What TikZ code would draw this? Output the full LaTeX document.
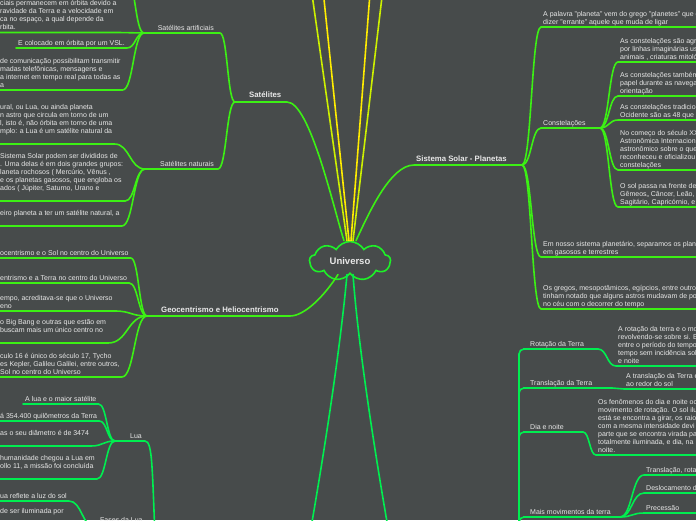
\documentclass[tikz,border=0pt]{standalone}
\usepackage{fontspec}
\setmainfont{Liberation Sans}
\usetikzlibrary{calc,shapes.symbols}

\definecolor{fundo}{RGB}{71,75,75}
\definecolor{texto}{RGB}{232,232,232}
\definecolor{verdelima}{RGB}{60,240,20}
\definecolor{verdemar}{RGB}{0,238,80}
\definecolor{verdenuvem}{RGB}{30,240,40}
\definecolor{amarelo}{RGB}{255,236,0}
\definecolor{amareloverde}{RGB}{205,240,0}

\begin{document}
\begin{tikzpicture}[x=1pt, y=-1pt, line cap=round,
    every node/.style={text=texto, font=\fontsize{7}{8}\selectfont},
    folha/.style={inner xsep=2pt, inner ysep=0pt, align=left, anchor=south west, execute at end node=\strut},
    titulo/.style={font=\bfseries\fontsize{7.8}{9}\selectfont, inner sep=0pt, anchor=base west},
    ramo/.style={draw=verdelima, line width=1.6pt},
    ramoT/.style={draw=verdemar, line width=1.6pt},
    curva/.style={to path={let \p1=(\tikztostart), \p2=(\tikztotarget) in
        .. controls ({(\x1+\x2)/2},\y1) and ({(\x1+\x2)/2},\y2) .. (\tikztotarget)}}]

    % 1. fundo e recorte
    \fill[fundo] (0,0) rectangle (696,520);
    \useasboundingbox (0,0) rectangle (696,520);
    \clip (0,0) rectangle (696,520);

    % pontos de ligacao
    \coordinate (satL) at (235,102);   \coordinate (satR) at (287,102);
    \coordinate (artL) at (144,33);    \coordinate (artR) at (220,33);
    \coordinate (artCima) at (126,-25);
    \coordinate (natL) at (145,169);   \coordinate (natR) at (218,169);
    \coordinate (geoL) at (147,316);   \coordinate (geoR) at (290,316);
    \coordinate (luaL) at (115,441);   \coordinate (luaR) at (145,441);
    \coordinate (luaTronco) at (156,560);
    \coordinate (fasL) at (95,527);    \coordinate (fasR) at (150,527);
    \coordinate (sisL) at (414,165);   \coordinate (sisR) at (522,165);
    \coordinate (constR) at (600,128);
    \coordinate (terraS) at (519,600);
    \coordinate (rotR) at (598,349);   \coordinate (traR) at (612,388);
    \coordinate (diaR) at (583,432);   \coordinate (maisR) at (620,517);
    \coordinate (topoA) at (310,-20);  \coordinate (topoB) at (322,-20);
    \coordinate (topoC) at (371,-20);  \coordinate (topoD) at (384,-20);
    \coordinate (baixoA) at (308,545); \coordinate (baixoB) at (391,545);

    % 2. nuvem central
    \node[cloud, cloud puffs=9, cloud puff arc=120, aspect=2.1, draw=verdenuvem, line width=1.6pt,
          minimum width=81pt, minimum height=39pt, inner sep=0pt,
          font=\bfseries\fontsize{9.5}{11}\selectfont] (uni) at (350,261) {Universo};

    % 3. ramos que saem da nuvem
    \draw[amareloverde, line width=1.6pt] ([xshift=-3pt]uni.north) -- (topoA);
    \draw[amarelo, line width=1.6pt] ([xshift=-1pt]uni.north) -- (topoB);
    \draw[amarelo, line width=1.6pt] ([xshift=1pt]uni.north) -- (topoC);
    \draw[amareloverde, line width=1.6pt] ([xshift=3pt]uni.north) -- (topoD);
    \draw[ramo] ([xshift=-6pt]uni.north) .. controls (334,210) and (310,102) .. (satR) -- (satL);
    \draw[ramo] ([xshift=6pt]uni.north) .. controls (368,215) and (390,165) .. (sisL) -- (sisR);
    \draw[ramo] ([xshift=-12pt]uni.south) .. controls (325,295) and (305,316) .. (geoR) -- (geoL);
    \draw[ramoT] ([xshift=-3pt]uni.south) .. controls (342,330) and (330,420) .. (baixoA);
    \draw[ramoT] ([xshift=3pt]uni.south) .. controls (357,330) and (369,420) .. (baixoB);

    % 4. Satelites
    \node[titulo] (sat) at (249,97) {Satélites};
    \node[folha, anchor=south east] (art) at (216,33) {Satélites artificiais};
    \node[folha, anchor=south east] (nat) at (216,169) {Satélites naturais};
    \draw[ramo] (satL) to[curva] (artR) -- (artL);
    \draw[ramo] (satL) to[curva] (natR) -- (natL);

    \node[folha] (a1) at (-2,32.5) {ciais permanecem em órbita  devido a\\ravidade da Terra e a velocidade em\\ca no espaço, a qual depende da\\rbita.};
    \node[folha] (a2) at (16,48) {E colocado em órbita por um VSL.};
    \node[folha] (a3) at (-2,90) {de comunicação possibilitam transmitir\\madas telefônicas, mensagens e\\a internet em tempo real para todas as\\a};
    \draw[ramo] (artL) to[curva] (artCima);
    \draw[ramo] (artL) to[curva] (a1.south east) -- (a1.south west);
    \draw[ramo] (artL) to[curva] (a2.south east) -- (a2.south west);
    \draw[ramo] (artL) to[curva] (a3.south east) -- (a3.south west);

    \node[folha] (n1) at (-2,144) {ural, ou Lua, ou ainda planeta\\n astro que circula em torno de um\\l, isto é, não órbita em torno de uma\\mplo: a Lua é um satélite natural da\\};
    \node[folha] (n2) at (-2,201) {Sistema Solar podem ser divididos de\\. Uma delas é em dois grandes grupos:\\laneta rochosos ( Mercúrio, Vênus ,\\e os planetas gasosos, que engloba os\\ados ( Júpiter, Saturno, Urano e\\};
    \node[folha] (n3) at (-2,226) {eiro planeta a ter um satélite natural, a\\};
    \draw[ramo] (natL) to[curva] (n1.south east) -- (n1.south west);
    \draw[ramo] (natL) to[curva] (n2.south east) -- (n2.south west);
    \draw[ramo] (natL) to[curva] (n3.south east) -- (n3.south west);

    % 5. Geocentrismo e Heliocentrismo
    \node[titulo] (geo) at (161,312) {Geocentrismo e Heliocentrismo};
    \node[folha] (g1) at (-2,258) {ocentrismo e o Sol no centro do Universo};
    \node[folha] (g2) at (-2,283) {entrismo e a Terra no centro do Universo};
    \node[folha] (g3) at (-2,311) {empo, acreditava-se que o Universo\\eno};
    \node[folha] (g4) at (-2,343) {o Big Bang e outras que estão em\\buscam mais um único centro no\\};
    \node[folha] (g5) at (-2,377) {culo 16 é único do século 17, Tycho\\es Kepler, Galileu Galilei, entre outros,\\Sol no centro do Universo};
    \foreach \g in {g1,g2,g3,g4,g5}
        \draw[ramo] (geoL) to[curva] (\g.south east) -- (\g.south west);

    % 6. Lua e Fases da Lua
    \node[folha, anchor=south east] (lua) at (144,441) {Lua};
    \draw[ramoT] (luaL) -- (luaR) .. controls (153,441) and (152,470) .. (luaTronco);
    \node[folha] (l1) at (23,404) {A lua e o maior satélite};
    \node[folha] (l2) at (-2,421) {á 354.400 quilômetros da Terra};
    \node[folha] (l3) at (-2,446) {as o seu diâmetro é de 3474\\};
    \node[folha] (l4) at (-2,479) {humanidade chegou a Lua em\\ollo 11, a missão foi concluída\\};
    \foreach \l in {l1,l2,l3,l4}
        \draw[ramoT] (luaL) to[curva] (\l.south east) -- (\l.south west);

    \node[anchor=base west, inner sep=0pt] (fas) at (100,522) {Fases da Lua};
    \draw[ramoT] (fasL) -- (fasR) -- (luaTronco);
    \node[folha] (f1) at (-2,501) {ua reflete a luz do sol};
    \node[folha] (f2) at (-2,524) {de ser iluminada por\\};
    \draw[ramoT] (fasL) to[curva] (f1.south east) -- (f1.south west);
    \draw[ramoT] (fasL) to[curva] (f2.south east) -- (f2.south west);

    % 7. Sistema Solar - Planetas
    \node[titulo] (sis) at (416,161) {Sistema Solar - Planetas};
    \node[folha] (pal) at (541,27) {A palavra "planeta" vem do grego "planetes" que q\\dizer "errante" aquele que muda de ligar};
    \node[folha] (const) at (541,128) {Constelações};
    \node[folha] (emn) at (541,257) {Em nosso sistema planetário, separamos os plane\\em gasosos e terrestres};
    \node[folha] (gre) at (541,309) {Os gregos, mesopotâmicos, egípcios, entre outros\\tinham notado que alguns astros mudavam de po\\no céu com o decorrer do tempo};
    \draw[ramo] (sisR) to[curva] (pal.south west) -- (pal.south east);
    \draw[ramo] (sisR) to[curva] (const.south west) -- (constR);
    \draw[ramo] (sisR) to[curva] (emn.south west) -- (emn.south east);
    \draw[ramo] (sisR) to[curva] (gre.south west) -- (gre.south east);

    \node[folha] (c1) at (618,62) {As constelações são agru\\por linhas imaginárias usa\\animais , criaturas mitoló};
    \node[folha] (c2) at (618,96) {As constelações também\\papel durante as navega\\orientação};
    \node[folha] (c3) at (618,120) {As constelações tradicio\\Ocidente são as 48 que};
    \node[folha] (c4) at (618,170) {No começo do século XX\\Astronômica Internacion\\astronômico sobre o que\\reconheceu e oficializou\\constelações};
    \node[folha] (c5) at (618,207) {O sol passa na frente de\\Gêmeos,, Câncer, Leão,\\Sagitário, Capricórnio, e};
    \foreach \c in {c1,c2,c3,c4,c5}
        \draw[ramo] (constR) to[curva] (\c.south west) -- ([xshift=20pt]\c.south east);

    % 8. Movimentos da Terra
    \node[folha] (rot) at (528,349) {Rotação da Terra};
    \node[folha] (tra) at (528,388) {Translação da Terra};
    \node[folha] (dia) at (528,432) {Dia e noite};
    \node[folha] (mais) at (528,517) {Mais movimentos da terra};
    \draw[ramoT, rounded corners=5pt] (terraS) |- (rot.south west) -- (rotR);
    \draw[ramoT, rounded corners=5pt] (terraS) |- (tra.south west) -- (traR);
    \draw[ramoT, rounded corners=5pt] (terraS) |- (dia.south west) -- (diaR);
    \draw[ramoT, rounded corners=5pt] (terraS) |- (mais.south west) -- (maisR);

    \node[folha] (rotT) at (616,366) {A rotação da terra e o mo\\revolvendo-se sobre si. E\\entre o período do tempo\\tempo sem incidência sol\\e noite};
    \node[folha] (traT) at (624,389) {A translação da Terra é\\ao redor do sol};
    \node[folha] (diaT) at (596,455) {Os fenômenos do dia e noite oc\\movimento de rotação. O sol ilu\\está se encontra a girar, os raio\\com a mesma intensidade devi\\parte que se encontra virada pa\\totalmente iluminada, e dia, na\\noite.};
    \draw[ramoT] (rotR) to[curva] (rotT.south west) -- ([xshift=20pt]rotT.south east);
    \draw[ramoT] (traR) to[curva] (traT.south west) -- ([xshift=20pt]traT.south east);
    \draw[ramoT] (diaR) to[curva] (diaT.south west) -- ([xshift=20pt]diaT.south east);

    \node[folha] (m1) at (644,475) {Translação, rota};
    \node[folha] (m2) at (644,493) {Deslocamento d};
    \node[folha] (m3) at (644,513) {Precessão};
    \foreach \m in {m1,m2,m3}
        \draw[ramoT] (maisR) to[curva] (\m.south west) -- ([xshift=20pt]\m.south east);
\end{tikzpicture}
\end{document}
